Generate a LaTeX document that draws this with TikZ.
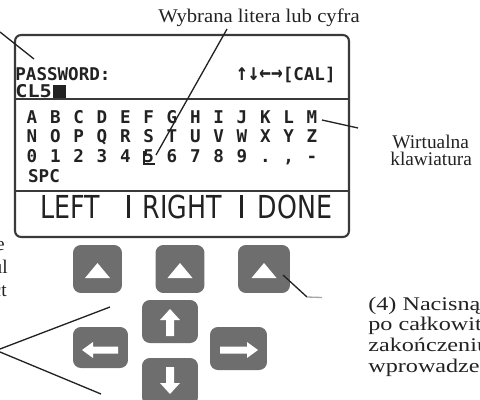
\documentclass[tikz,border=0pt]{standalone}
\usepackage{fontspec}
\usepackage{graphicx}
\setmainfont{Liberation Serif}
\newfontfamily\lcd{DejaVu Sans Mono}
\newfontfamily\lcdbig[FakeStretch=0.8]{DejaVu Sans}
\definecolor{btn}{HTML}{6E6E6E}
\definecolor{framec}{HTML}{3A3A3A}
\definecolor{ink}{HTML}{222222}
\tikzset{
  lbl/.style={font=\fontsize{11}{12}\selectfont, inner sep=0pt, text=ink},
  lcdtxt/.style={font=\lcd\bfseries\fontsize{10}{10}\selectfont, inner sep=0pt, text=ink},
  key/.style={lcdtxt, anchor=base},
  soft/.style={font=\lcdbig\fontsize{18}{18}\selectfont, inner sep=0pt, text=ink},
  leader/.style={line width=0.75pt, ink},
  btnbox/.style={fill=btn, rounded corners=4.5pt, draw=none, inner sep=0pt},
  arrowfill/.style={fill=white, draw=none},
  screenline/.style={draw=framec, line width=1.2pt},
}
\begin{document}
\begin{tikzpicture}[x=0.02cm,y=-0.02cm]
\useasboundingbox (0,0) rectangle (480,399);
\clip (0,0) rectangle (480,399);
% title
\node[lbl, anchor=base] (title) at (259,22) {\scalebox{1.07}[1]{Wybrana litera lub cyfra}};
% screen
\draw[screenline, rounded corners=3.5pt] (15,35) rectangle (349,237);
\draw[screenline] (15,99) -- (349,99);
\draw[screenline] (15,191) -- (349,191);
\node[lcdtxt, anchor=base west] (pw) at (15,80) {PASSWORD:};
\node[lcdtxt, anchor=base west] (cl) at (15,97) {\scalebox{1.15}[1]{CL5}};
\fill[ink] (53,85) rectangle (66,98);
\node[lcdtxt, anchor=base east] (cal) at (336,80) {\scalebox{1.1}[1.35]{↑↓←→}[CAL]};
% keyboard
\foreach [count=\i from 0] \c in {A,B,C,D,E,F,G,H,I,J,K,L,M}
  \node[key] (ka-\i) at (32+23.33*\i,123) {\c};
\foreach [count=\i from 0] \c in {N,O,P,Q,R,S,T,U,V,W,X,Y,Z}
  \node[key] (kb-\i) at (32+23.33*\i,142) {\c};
\foreach [count=\i from 0] \c in {0,1,2,3,4,5,6,7,8,9,.,{,},-}
  \node[key] (kc-\i) at (32+23.33*\i,162) {\c};
\node[key] (spc) at (44,182) {SPC};
\fill[ink] (143,162.5) rectangle (155,165);
\fill[ink] (143,151) rectangle (145,165);
% soft keys
\node[soft] (left) at (70,206.5) {LEFT};
\node[soft] (right) at (182,206.5) {RIGHT};
\node[soft] (done) at (295,206.5) {DONE};
\fill[ink] (127,195) rectangle (130,218);
\fill[ink] (240,195) rectangle (243,218);
% buttons
\node[btnbox, minimum width=0.98cm, minimum height=0.96cm] (b1) at (97.5,269) {};
\node[btnbox, minimum width=0.98cm, minimum height=0.96cm] (b2) at (180,269) {};
\node[btnbox, minimum width=1.04cm, minimum height=0.96cm] (b3) at (264,269) {};
\foreach \x in {97.5,180,264}
  \fill[arrowfill] (\x-12.5,278) -- (\x+12.5,278) -- (\x,263) -- cycle;
\node[btnbox, minimum width=1.12cm, minimum height=0.86cm] (up) at (170,321.5) {};
\node[btnbox, minimum width=1.10cm, minimum height=0.82cm] (lt) at (100.5,347.5) {};
\node[btnbox, minimum width=1.14cm, minimum height=0.86cm] (rt) at (238.5,348.5) {};
\node[btnbox, minimum width=1.12cm, minimum height=0.94cm] (dn) at (170,381.5) {};
% arrows
\fill[arrowfill] (170,309) -- (180,320) -- (174,320) -- (174,336) -- (166,336) -- (166,320) -- (160,320) -- cycle;
\fill[arrowfill] (170,394) -- (180,383) -- (174,383) -- (174,367) -- (166,367) -- (166,383) -- (160,383) -- cycle;
\fill[arrowfill] (258,350) -- (247,342) -- (247,346.5) -- (220,346.5) -- (220,353.5) -- (247,353.5) -- (247,358) -- cycle;
\fill[arrowfill] (82,350) -- (93,342) -- (93,346.5) -- (118,346.5) -- (118,353.5) -- (93,353.5) -- (93,358) -- cycle;
% labels
\node[lbl, anchor=base west] (wirt1) at (392,148) {Wirtualna};
\node[lbl, anchor=base west] (wirt2) at (390,165) {klawiatura};
\node[lbl, anchor=base west] (r1) at (368,310) {\scalebox{1.25}[1]{(4) Nacisnąć}};
\node[lbl, anchor=base west] (r2) at (368,330.5) {\scalebox{1.25}[1]{po całkowitym}};
\node[lbl, anchor=base west] (r3) at (368,351.5) {\scalebox{1.25}[1]{zakończeniu}};
\node[lbl, anchor=base west] (r4) at (368,372) {\scalebox{1.25}[1]{wprowadzenia}};
\node[lbl, anchor=base east] (f1) at (5,250) {e};
\node[lbl, anchor=base east] (f2) at (8,273) {ul};
\node[lbl, anchor=base east] (f3) at (7,296) {ct};
% leader lines
\coordinate (t1) at (227,29);
\coordinate (t2) at (156,155);
\draw[leader] (t1) -- (t2);
\coordinate (p1) at (0,32);
\coordinate (p2) at (34,59);
\draw[leader] (p1) -- (p2);
\coordinate (k1) at (322,120);
\coordinate (k2) at (358,128);
\draw[leader] (k1) -- (k2);
\coordinate (d1) at (283,275);
\coordinate (d2) at (307,297);
\coordinate (d3) at (322,297.5);
\draw[leader] (d1) -- (d2);
\draw[line width=0.75pt, black!35] (d2) -- (d3);
\coordinate (a0) at (0,349);
\coordinate (a1) at (110,307);
\coordinate (a2) at (0,352);
\coordinate (a3) at (101,394);
\draw[leader] (a0) -- (a1);
\draw[leader] (a2) -- (a3);
\end{tikzpicture}
\end{document}
